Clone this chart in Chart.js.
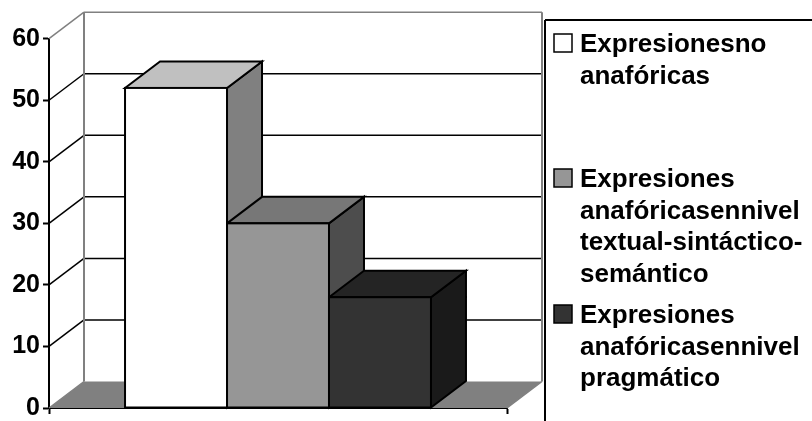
<!DOCTYPE html>
<html lang="es">
<head>
<meta charset="UTF-8">
<title>Expresiones anafóricas</title>
<script src="https://cdn.jsdelivr.net/npm/chart.js"></script>
<style>
    html, body { margin: 0; padding: 0; background: #fff; overflow: hidden; }
    canvas { display: block; }
</style>
</head>
<body>
<canvas id="chart" width="812" height="421"></canvas>
<script>
const categories = [''];
const seriesNames = [
    ['Expresionesno', 'anafóricas'],
    ['Expresiones', 'anafóricasennivel', 'textual-sintáctico-', 'semántico'],
    ['Expresiones', 'anafóricasennivel', 'pragmático']
];
const seriesValues = [[52], [30], [18]];
const yTicks = [0, 10, 20, 30, 40, 50, 60];

const frontColors = ['#ffffff', '#969696', '#333333'];
const topColors = ['#c0c0c0', '#777777', '#242424'];
const sideColors = ['#808080', '#4d4d4d', '#1a1a1a'];

const FONT = 'bold 26px "Liberation Sans", Arial, sans-serif';
const DEPTH_X = 35;
const DEPTH_Y = 26.5;

function poly(ctx, pts, fill, stroke, width) {
    ctx.beginPath();
    pts.forEach((p, i) => i ? ctx.lineTo(p[0], p[1]) : ctx.moveTo(p[0], p[1]));
    ctx.closePath();
    if (fill) { ctx.fillStyle = fill; ctx.fill(); }
    if (stroke) { ctx.strokeStyle = stroke; ctx.lineWidth = width; ctx.stroke(); }
}

function line(ctx, x1, y1, x2, y2, color, width) {
    ctx.beginPath();
    ctx.moveTo(x1, y1);
    ctx.lineTo(x2, y2);
    ctx.strokeStyle = color;
    ctx.lineWidth = width;
    ctx.stroke();
}

// walls, floor and the receding gridlines behind the bars
const wallsPlugin = {
    id: 'walls',
    beforeDatasetsDraw(chart) {
        const ctx = chart.ctx;
        const { left, right } = chart.chartArea;
        const y = chart.scales.y;
        const y0 = y.getPixelForValue(0);
        const backLeft = left + DEPTH_X;
        const backRight = right + DEPTH_X;

        ctx.save();
        poly(ctx, [[left, y0], [backLeft, y0 - DEPTH_Y], [backRight, y0 - DEPTH_Y], [right, y0]], '#808080');

        yTicks.forEach(v => {
            if (v === 0) return;
            const py = y.getPixelForValue(v);
            const color = v === yTicks[yTicks.length - 1] ? '#808080' : '#000000';
            line(ctx, left, py, backLeft, py - DEPTH_Y, color, 1.5);
            line(ctx, backLeft, py - DEPTH_Y, backRight, py - DEPTH_Y, color, 1.5);
        });

        line(ctx, backLeft, y.getPixelForValue(60) - DEPTH_Y, backLeft, y0 - DEPTH_Y, '#808080', 2);
        line(ctx, backRight, y.getPixelForValue(60) - DEPTH_Y, backRight, y0 - DEPTH_Y, '#808080', 2);
        line(ctx, left, y0, backLeft, y0 - DEPTH_Y, '#808080', 1.5);
        line(ctx, right, y0, backRight, y0 - DEPTH_Y, '#808080', 1.5);

        // side and top faces, left to right so each bar covers the one before it
        chart.data.datasets.forEach((ds, i) => {
            const bar = chart.getDatasetMeta(i).data[0];
            const l = bar.x - bar.width / 2;
            const r = bar.x + bar.width / 2;
            const t = bar.y;
            const b = bar.base;
            poly(ctx, [[r, t], [r + DEPTH_X, t - DEPTH_Y], [r + DEPTH_X, b - DEPTH_Y], [r, b]], sideColors[i], '#000', 2);
            poly(ctx, [[l, t], [l + DEPTH_X, t - DEPTH_Y], [r + DEPTH_X, t - DEPTH_Y], [r, t]], topColors[i], '#000', 2);
        });
        ctx.restore();
    },
    // outline the front faces on their exact edges so neighbours share one line
    afterDatasetsDraw(chart) {
        const ctx = chart.ctx;
        ctx.save();
        ctx.strokeStyle = '#000';
        ctx.lineWidth = 2;
        chart.data.datasets.forEach((ds, i) => {
            const bar = chart.getDatasetMeta(i).data[0];
            ctx.strokeRect(bar.x - bar.width / 2, bar.y, bar.width, bar.base - bar.y);
        });
        ctx.restore();
    }
};

// legend box on the right with wrapped entries
const sideLegendPlugin = {
    id: 'sideLegend',
    afterDraw(chart) {
        const ctx = chart.ctx;
        const entryY = [52, 187, 323];
        ctx.save();
        line(ctx, 545, 20, 812, 20, '#000', 2);
        line(ctx, 545, 20, 545, 421, '#000', 2);
        ctx.font = FONT;
        ctx.textBaseline = 'alphabetic';
        ctx.textAlign = 'left';
        seriesNames.forEach((lines, i) => {
            ctx.fillStyle = frontColors[i];
            ctx.fillRect(554, entryY[i] - 18, 18, 18);
            ctx.strokeStyle = '#000';
            ctx.lineWidth = 1.5;
            ctx.strokeRect(554, entryY[i] - 18, 18, 18);
            ctx.fillStyle = '#000';
            lines.forEach((txt, j) => ctx.fillText(txt, 580, entryY[i] + j * 31.7));
        });
        ctx.restore();
    }
};

new Chart(document.getElementById('chart'), {
    type: 'bar',
    data: {
        labels: categories,
        datasets: seriesValues.map((values, i) => ({
            label: seriesNames[i].join(' '),
            data: values,
            backgroundColor: frontColors[i],
            borderWidth: 0
        }))
    },
    plugins: [wallsPlugin, sideLegendPlugin],
    options: {
        responsive: false,
        animation: false,
        devicePixelRatio: 1,
        layout: { padding: { top: 38.7, right: 305, bottom: 0, left: 0 } },
        datasets: { bar: { barPercentage: 1, categoryPercentage: 0.668 } },
        plugins: { legend: { display: false }, tooltip: { enabled: false } },
        scales: {
            x: {
                afterFit(scale) { scale.height = 13; },
                grid: { offset: true, drawOnChartArea: false, drawTicks: true, tickLength: 6, tickColor: '#000', tickWidth: 2 },
                border: { color: '#000', width: 2 },
                ticks: { display: false }
            },
            y: {
                min: 0,
                max: 60,
                afterFit(scale) {
                    scale.width = 49;
                    scale.paddingTop = 0;
                    scale.paddingBottom = 0;
                },
                afterBuildTicks(scale) { scale.ticks = yTicks.map(value => ({ value })); },
                grid: { drawOnChartArea: false, drawTicks: true, tickLength: 6, tickColor: '#000', tickWidth: 2 },
                border: { color: '#000', width: 2 },
                ticks: {
                    color: '#000',
                    padding: 3,
                    autoSkip: false,
                    font: { family: '"Liberation Sans", Arial, sans-serif', size: 25, weight: 'bold' }
                }
            }
        }
    }
});
</script>
</body>
</html>
